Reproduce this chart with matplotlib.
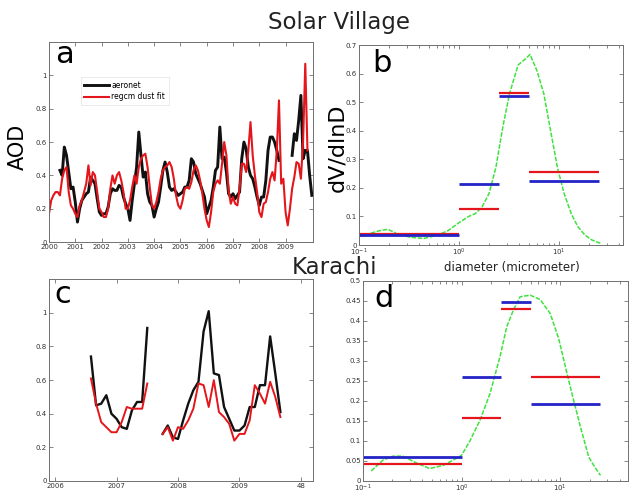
import numpy as np
import matplotlib
matplotlib.use("Agg")
import matplotlib.pyplot as plt
from matplotlib.ticker import FuncFormatter, LogLocator, NullFormatter

nan = np.nan

# Solar Village AOD, monthly from Jan 2000 (index 0) to Jan 2010 (index 120)
months_a = np.arange(121)
aeronet_a = [nan, nan, nan, nan, nan, 0.43, 0.40, 0.57, 0.52, 0.42, 0.32, 0.33,
             0.24, 0.12, 0.20, 0.25, 0.27, 0.29, 0.30, 0.39, 0.37, 0.35, 0.26, 0.18,
             0.16, 0.17, 0.17, 0.21, 0.29, 0.32, 0.31, 0.31, 0.34, 0.33, 0.27, 0.23,
             0.20, 0.13, 0.25, 0.35, 0.45, 0.66, 0.52, 0.39, 0.42, 0.29, 0.24, 0.22,
             0.15, 0.20, 0.24, 0.33, 0.43, 0.48, 0.42, 0.33, 0.31, 0.32, 0.30, 0.28,
             0.29, 0.30, 0.33, 0.33, 0.37, 0.50, 0.48, 0.41, 0.38, 0.35, 0.31, 0.27,
             0.17, 0.21, 0.25, 0.33, 0.43, 0.45, 0.69, 0.50, 0.51, 0.42, 0.29, 0.27,
             0.29, 0.26, 0.28, 0.30, 0.50, 0.60, 0.56, 0.45, 0.40, 0.38, 0.33, 0.27,
             0.22, 0.27, 0.27, 0.37, 0.55, 0.63, 0.63, 0.60, 0.55, 0.49, nan, nan,
             nan, nan, nan, 0.52, 0.65, 0.61, 0.73, 0.88, 0.50, 0.55, 0.55, 0.40,
             0.28]
regcm_a = [0.17, 0.25, 0.28, 0.30, 0.30, 0.28, 0.38, 0.43, 0.45, 0.30, 0.22, 0.20,
           0.17, 0.15, 0.22, 0.25, 0.30, 0.35, 0.46, 0.34, 0.42, 0.40, 0.30, 0.20,
           0.18, 0.15, 0.15, 0.20, 0.32, 0.40, 0.35, 0.40, 0.42, 0.37, 0.30, 0.20,
           0.20, 0.25, 0.33, 0.40, 0.35, 0.45, 0.50, 0.52, 0.53, 0.45, 0.33, 0.22,
           0.20, 0.24, 0.30, 0.38, 0.43, 0.45, 0.46, 0.48, 0.45, 0.38, 0.28, 0.22,
           0.20, 0.25, 0.32, 0.33, 0.32, 0.36, 0.43, 0.46, 0.43, 0.37, 0.29, 0.20,
           0.13, 0.09, 0.18, 0.30, 0.35, 0.37, 0.35, 0.47, 0.60, 0.52, 0.31, 0.23,
           0.27, 0.23, 0.22, 0.32, 0.47, 0.47, 0.42, 0.55, 0.72, 0.52, 0.40, 0.30,
           0.18, 0.15, 0.23, 0.24, 0.30, 0.38, 0.42, 0.37, 0.55, 0.85, 0.35, 0.38,
           0.18, 0.10, 0.20, 0.32, 0.39, 0.48, 0.47, 0.38, 0.60, 1.07, 0.55, nan,
           nan]
years_a = list(range(2000, 2010))

# Karachi AOD, months counted from Jan 2006
months_c = np.arange(7, 45)
aeronet_c = [0.74, 0.45, 0.46, 0.51, 0.40, 0.37, 0.32, 0.31, 0.42, 0.47, 0.47, 0.91,
             nan, nan,
             0.28, 0.33, 0.26, 0.25, 0.36, 0.46, 0.54, 0.59, 0.89, 1.01, 0.64, 0.63,
             0.44, 0.37, 0.30, 0.30, 0.33, 0.44, 0.44, 0.57, 0.57, 0.86, 0.64, 0.41]
regcm_c = [0.61, 0.46, 0.35, 0.32, 0.29, 0.29, 0.35, 0.44, 0.43, 0.43, 0.43, 0.58,
           nan, nan,
           0.28, 0.32, 0.24, 0.32, 0.31, 0.36, 0.43, 0.58, 0.57, 0.44, 0.60, 0.41,
           0.38, 0.34, 0.24, 0.28, 0.28, 0.36, 0.57, 0.52, 0.46, 0.59, 0.50, 0.38]
years_c = [2006, 2007, 2008, 2009, 2010]
year_labels_c = ["2006", "2007", "2008", "2009", "48"]

# size distributions (diameter in micrometer)
diam_b = [0.1, 0.127, 0.160, 0.195, 0.238, 0.327, 0.448, 0.613, 0.777, 1.0, 1.25,
          1.46, 1.71, 2.0, 2.34, 2.74, 3.21, 3.91, 4.58, 5.15, 6.04, 7.07, 8.27,
          9.69, 11.3, 13.3, 15.5, 18.2, 21.3, 26.0]
dvdlnd_b = [0.03, 0.04, 0.05, 0.055, 0.04, 0.027, 0.023, 0.035, 0.05, 0.078, 0.10,
            0.11, 0.134, 0.18, 0.27, 0.41, 0.53, 0.63, 0.65, 0.667, 0.61, 0.53, 0.40,
            0.27, 0.18, 0.11, 0.064, 0.035, 0.018, 0.006]
diam_d = [0.1216, 0.160, 0.202, 0.255, 0.349, 0.476, 0.651, 0.823, 1.0, 1.216, 1.54,
          1.94, 2.45, 2.87, 3.35, 3.92, 4.95, 6.26, 7.91, 9.62, 11.7, 13.7, 16.0,
          19.4, 21.8, 25.5]
dvdlnd_d = [0.025, 0.052, 0.062, 0.062, 0.045, 0.031, 0.039, 0.052, 0.064, 0.10,
            0.152, 0.218, 0.31, 0.385, 0.427, 0.46, 0.464, 0.453, 0.418, 0.356,
            0.268, 0.20, 0.135, 0.06, 0.039, 0.014]

bin_edges = [0.1, 1.0, 2.5, 5.0, 25.0]
regcm_bins_b = [0.037, 0.127, 0.531, 0.256]
aeronet_bins_b = [0.034, 0.213, 0.522, 0.223]
regcm_bins_d = [0.043, 0.158, 0.429, 0.260]
aeronet_bins_d = [0.060, 0.259, 0.446, 0.191]

BLACK = "#111111"
RED = "#e4161c"
BLUE = "#2323c8"
GREEN = "#3ee23e"
TICK_FS = 5

fmt = FuncFormatter(lambda v, p: f"{v:g}")


def style(ax):
    for s in ax.spines.values():
        s.set_color("#707070")
        s.set_linewidth(0.7)
    ax.tick_params(which="both", direction="in", top=True, right=True,
                   labelsize=TICK_FS, colors="#555555", labelcolor="#333333",
                   width=0.5, pad=1.5)
    ax.tick_params(which="major", length=3)
    ax.tick_params(which="minor", length=1.8)


fig = plt.figure(figsize=(6.32, 4.92), dpi=100)

# ---- a : Solar Village time series
ax_a = fig.add_axes([0.0775, 0.508, 0.418, 0.4065])
t_a = 2000 + months_a / 12
ax_a.plot(t_a, aeronet_a, color=BLACK, lw=2.1, label="aeronet")
ax_a.plot(t_a, regcm_a, color=RED, lw=1.5, label="regcm dust fit")
ax_a.set_xlim(2000, 2010.05)
ax_a.set_ylim(0, 1.2)
ax_a.set_xticks(years_a)
ax_a.set_xticklabels([str(y) for y in years_a])
ax_a.set_yticks([0, 0.2, 0.4, 0.6, 0.8, 1.0])
ax_a.yaxis.set_major_formatter(fmt)
style(ax_a)
leg = ax_a.legend(loc="upper left", bbox_to_anchor=(0.105, 0.845), fontsize=5.5,
                  handlelength=3.2, handletextpad=0.3, borderpad=0.5,
                  labelspacing=0.35, fancybox=False, framealpha=1)
leg.get_frame().set_edgecolor("#e6e6e6")
leg.get_frame().set_linewidth(0.6)
ax_a.text(0.022, 0.895, "a", transform=ax_a.transAxes, fontsize=22, va="baseline")
fig.text(18 / 632, 1 - 147 / 492, "AOD", rotation=90, fontsize=15,
         ha="center", va="center")

# ---- b : Solar Village size distribution
ax_b = fig.add_axes([0.568, 0.502, 0.418, 0.4065])
ax_b.plot(diam_b, dvdlnd_b, color=GREEN, lw=1.1, ls=(0, (3, 1)))
ax_b.hlines(regcm_bins_b, bin_edges[:-1], bin_edges[1:], color=RED, lw=1.6)
ax_b.hlines(aeronet_bins_b, bin_edges[:-1], bin_edges[1:], color=BLUE, lw=2.0)
ax_b.set_xscale("log")
ax_b.set_xlim(0.1, 44)
ax_b.set_ylim(0, 0.7)
ax_b.set_yticks(np.arange(0, 0.71, 0.1))
ax_b.yaxis.set_major_formatter(fmt)
ax_b.xaxis.set_major_locator(LogLocator(base=10, numticks=5))
ax_b.xaxis.set_minor_locator(LogLocator(base=10, subs=np.arange(2, 10), numticks=20))
ax_b.xaxis.set_minor_formatter(NullFormatter())
style(ax_b)
ax_b.text(0.05, 0.865, "b", transform=ax_b.transAxes, fontsize=22, va="baseline")
fig.text(337 / 632, 1 - 148 / 492, "dV/dlnD", rotation=90, fontsize=16,
         ha="center", va="center")
fig.text(512 / 632, 1 - 268 / 492, "diameter (micrometer)", fontsize=8.5,
         ha="center", va="center", color="#222222")

# ---- c : Karachi time series
ax_c = fig.add_axes([0.0775, 0.0224, 0.418, 0.41])
t_c = 2006 + months_c / 12
ax_c.plot(t_c, aeronet_c, color=BLACK, lw=1.7)
ax_c.plot(t_c, regcm_c, color=RED, lw=1.4)
ax_c.set_xlim(2005.9, 2010.2)
ax_c.set_ylim(0, 1.2)
ax_c.set_xticks(years_c)
ax_c.set_xticklabels(year_labels_c)
ax_c.set_yticks([0, 0.2, 0.4, 0.6, 0.8, 1.0])
ax_c.yaxis.set_major_formatter(fmt)
style(ax_c)
ax_c.text(0.022, 0.88, "c", transform=ax_c.transAxes, fontsize=22, va="baseline")

# ---- d : Karachi size distribution
ax_d = fig.add_axes([0.574, 0.0224, 0.419, 0.407])
ax_d.plot(diam_d, dvdlnd_d, color=GREEN, lw=1.1, ls=(0, (3, 1)))
ax_d.hlines(regcm_bins_d, bin_edges[:-1], bin_edges[1:], color=RED, lw=1.6)
ax_d.hlines(aeronet_bins_d, bin_edges[:-1], bin_edges[1:], color=BLUE, lw=2.0)
ax_d.set_xscale("log")
ax_d.set_xlim(0.1, 48)
ax_d.set_ylim(0, 0.5)
ax_d.set_yticks(np.arange(0, 0.51, 0.05))
ax_d.yaxis.set_major_formatter(fmt)
ax_d.xaxis.set_major_locator(LogLocator(base=10, numticks=5))
ax_d.xaxis.set_minor_locator(LogLocator(base=10, subs=np.arange(2, 10), numticks=20))
ax_d.xaxis.set_minor_formatter(NullFormatter())
style(ax_d)
ax_d.text(0.045, 0.87, "d", transform=ax_d.transAxes, fontsize=22, va="baseline")

fig.text(339 / 632, 1 - 22 / 492, "Solar Village", fontsize=16.5,
         ha="center", va="center", color="#222222")
fig.text(334 / 632, 1 - 267 / 492, "Karachi", fontsize=16.5,
         ha="center", va="center", color="#222222")

fig.savefig("out.png", dpi=100)
